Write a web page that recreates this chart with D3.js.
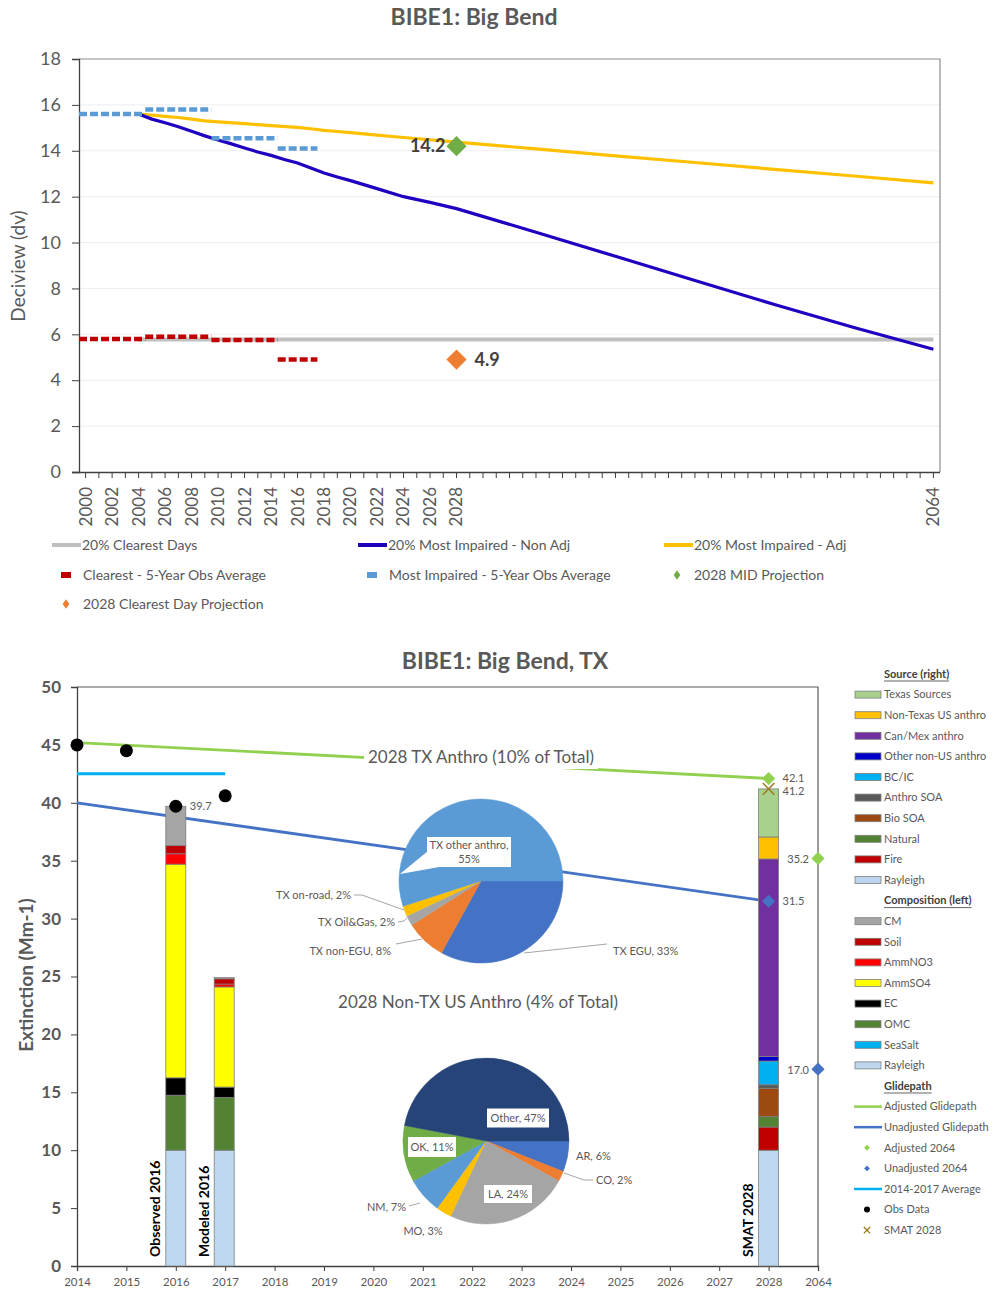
<!DOCTYPE html>
<html><head><meta charset="utf-8">
<script src="https://cdn.jsdelivr.net/npm/d3@7"></script>
<style>
body{margin:0;background:#fff;}
svg text{font-family:Lato,"Noto Sans",sans-serif;}
</style></head><body>
<svg id="chart" width="994" height="1289"></svg>
<script>
// ---------- Upper panel: deciview trends ----------
const dvCategories = ["2000","2001","2002","2003","2004","2005","2006","2007","2008","2009","2010","2011","2012","2013","2014","2015","2016","2017","2018","2019","2020","2021","2022","2023","2024","2025","2026","2027","2028","2029","2030","2031","2032","2033","2034","2035","2036","2037","2038","2039","2040","2041","2042","2043","2044","2045","2046","2047","2048","2049","2050","2051","2052","2053","2054","2055","2056","2057","2058","2059","2060","2061","2062","2063","2064"];
const dvTickLabels = ["2000","2002","2004","2006","2008","2010","2012","2014","2016","2018","2020","2022","2024","2026","2028","2064"];
const dvYTicks = [0,2,4,6,8,10,12,14,16,18];

const clearestYears = ["2004","2064"];
const clearestValues = [5.77, 5.77];

const adjYears = ["2004","2005","2006","2007","2008","2009","2010","2012","2014","2016","2017","2018","2019","2020","2022","2024","2026","2028","2034","2040","2046","2052","2058","2064"];
const adjValues = [15.6,15.55,15.5,15.45,15.38,15.3,15.26,15.18,15.1,15.02,14.96,14.89,14.84,14.79,14.68,14.58,14.48,14.38,14.08,13.78,13.49,13.19,12.9,12.6];

const nonAdjYears = ["2004","2005","2006","2007","2008","2009","2010","2011","2012","2013","2014","2015","2016","2017","2018","2019","2020","2022","2024","2026","2028","2034","2040","2046","2052","2058","2064"];
const nonAdjValues = [15.6,15.38,15.22,15.05,14.85,14.65,14.47,14.3,14.12,13.95,13.8,13.62,13.47,13.25,13.03,12.86,12.7,12.35,12.0,11.75,11.48,10.45,9.4,8.35,7.3,6.3,5.35];

const clearestAvgStart = ["2000","2005","2010","2015"];
const clearestAvgEnd = ["2004","2009","2014","2017"];
const clearestAvgValues = [5.8, 5.9, 5.75, 4.9];

const impairedAvgStart = ["2000","2005","2010","2015"];
const impairedAvgEnd = ["2004","2009","2014","2017"];
const impairedAvgValues = [15.6, 15.8, 14.55, 14.1];

const midProjection2028 = 14.2;
const clearestProjection2028 = 4.9;

// ---------- Lower panel: extinction budget ----------
const extCategories = ["2014","2015","2016","2017","2018","2019","2020","2021","2022","2023","2024","2025","2026","2027","2028","2064"];
const extYTicks = [0,5,10,15,20,25,30,35,40,45,50];

const compositionNames = ["Rayleigh","SeaSalt","OMC","EC","AmmSO4","AmmNO3","Soil","CM"];
const compositionColors = ["#BDD7EE","#00B0F0","#548235","#000000","#FFFF00","#FF0000","#C00000","#A5A5A5"];
const observed2016 = [10, 0, 4.75, 1.5, 18.45, 0.9, 0.7, 3.4];
const modeled2016 = [10, 0, 4.55, 0.9, 8.65, 0.25, 0.45, 0.1];

const sourceNames = ["Rayleigh","Fire","Natural","Bio SOA","Anthro SOA","BC/IC","Other non-US anthro","Can/Mex anthro","Non-Texas US anthro","Texas Sources"];
const sourceColors = ["#BDD7EE","#C00000","#548235","#9C4A10","#595959","#00B0F0","#0000CC","#7030A0","#FFC000","#A9D18E"];
const smat2028 = [10, 2.0, 0.9, 2.45, 0.3, 2.05, 0.4, 17.05, 1.9, 4.15];

const glideYears = ["2014","2028"];
const adjustedGlide = [45.2, 42.1];
const unadjustedGlide = [40.0, 31.5];
const adjusted2064 = 35.2;
const unadjusted2064 = 17.0;
const avgYears = ["2014","2017"];
const avg2014to2017 = [42.5, 42.5];
const obsYears = ["2014","2015","2016","2017"];
const obsValues = [45.0, 44.5, 39.7, 40.6];
const smatTotal = 41.2;

const txLabels = ["TX EGU","TX non-EGU","TX Oil&Gas","TX on-road","TX other anthro"];
const txShares = [33, 8, 2, 2, 55];
const txColors = ["#4472C4","#ED7D31","#A5A5A5","#FFC000","#5B9BD5"];

const usLabels = ["AR","CO","LA","MO","NM","OK","Other"];
const usShares = [6, 2, 24, 3, 7, 11, 47];
const usColors = ["#4472C4","#ED7D31","#A5A5A5","#FFC000","#5B9BD5","#70AD47","#264478"];

const legendEntries = [
  {t:"Source (right)", kind:"head"},
  {t:"Texas Sources", kind:"box", c:"#A9D18E"},
  {t:"Non-Texas US anthro", kind:"box", c:"#FFC000"},
  {t:"Can/Mex anthro", kind:"box", c:"#7030A0"},
  {t:"Other non-US anthro", kind:"box", c:"#0000CC"},
  {t:"BC/IC", kind:"box", c:"#00B0F0"},
  {t:"Anthro SOA", kind:"box", c:"#595959"},
  {t:"Bio SOA", kind:"box", c:"#9C4A10"},
  {t:"Natural", kind:"box", c:"#548235"},
  {t:"Fire", kind:"box", c:"#C00000"},
  {t:"Rayleigh", kind:"box", c:"#BDD7EE"},
  {t:"Composition (left)", kind:"head"},
  {t:"CM", kind:"box", c:"#A5A5A5"},
  {t:"Soil", kind:"box", c:"#C00000"},
  {t:"AmmNO3", kind:"box", c:"#FF0000"},
  {t:"AmmSO4", kind:"box", c:"#FFFF00"},
  {t:"EC", kind:"box", c:"#000000"},
  {t:"OMC", kind:"box", c:"#548235"},
  {t:"SeaSalt", kind:"box", c:"#00B0F0"},
  {t:"Rayleigh", kind:"box", c:"#BDD7EE"},
  {t:"Glidepath", kind:"head"},
  {t:"Adjusted Glidepath", kind:"line", c:"#92D050"},
  {t:"Unadjusted Glidepath", kind:"line", c:"#4472C4"},
  {t:"Adjusted 2064", kind:"diamond", c:"#92D050"},
  {t:"Unadjusted 2064", kind:"diamond", c:"#4472C4"},
  {t:"2014-2017 Average", kind:"line", c:"#00B0F0"},
  {t:"Obs Data", kind:"dot", c:"#000000"},
  {t:"SMAT 2028", kind:"x", c:"#9C7A1E"}
];

const svg = d3.select("#chart");
const gray = "#595959";
const diamond = (s) => d3.symbol().type(d3.symbolDiamond2).size(s)();

/* ===================== Upper panel ===================== */
const xT = d3.scaleBand().domain(dvCategories).range([79, 940]);
const bw = xT.bandwidth();
const cx = d => xT(d) + bw / 2;
const yT = d3.scaleLinear().domain([0, 18]).range([472, 59]);

svg.append("text").attr("x", 474).attr("y", 25).attr("text-anchor", "middle")
  .attr("font-size", 23).attr("font-weight", 700).attr("fill", gray).text("BIBE1: Big Bend");

// gridlines
svg.append("g").selectAll("line").data(dvYTicks.filter(v => v > 0 && v < 18)).join("line")
  .attr("x1", 79).attr("x2", 940).attr("y1", d => yT(d)).attr("y2", d => yT(d))
  .attr("stroke", "#eeeeee").attr("stroke-width", 1);
// frame top/right
svg.append("path").attr("d", `M79,${yT(18)}H940V${yT(0)}`).attr("fill", "none")
  .attr("stroke", "#8c8c8c").attr("stroke-width", 1.2);

// y axis
const yAxisT = svg.append("g").attr("transform", "translate(79,0)")
  .call(d3.axisLeft(yT).tickValues(dvYTicks).tickSize(7).tickPadding(11));
yAxisT.select(".domain").attr("stroke", "#404040").attr("stroke-width", 1.3);
yAxisT.selectAll(".tick line").attr("stroke", "#404040");
yAxisT.selectAll("text").attr("font-size", 18).attr("fill", gray);

// x axis
const xAxisT = svg.append("g").attr("transform", `translate(0,${yT(0)})`)
  .call(d3.axisBottom(xT).tickValues(dvCategories).tickSize(6)
    .tickFormat(d => dvTickLabels.includes(d) ? d : ""));
xAxisT.select(".domain").attr("d", "M72,0.5H940").attr("stroke", "#404040").attr("stroke-width", 1.3);
xAxisT.selectAll(".tick line").attr("stroke", "#404040");
xAxisT.selectAll("text").attr("font-size", 17).attr("fill", gray)
  .attr("transform", "rotate(-90)").attr("x", -15).attr("y", 0).attr("dy", "0.35em")
  .style("text-anchor", "end");

svg.append("text").attr("transform", "translate(25,266) rotate(-90)").attr("text-anchor", "middle")
  .attr("font-size", 19).attr("fill", gray).text("Deciview (dv)");

const lineT = d3.line().x(d => cx(d[0])).y(d => yT(d[1]));

svg.append("path").datum(d3.zip(clearestYears, clearestValues)).attr("d", lineT)
  .attr("fill", "none").attr("stroke", "#BFBFBF").attr("stroke-width", 4);
svg.append("path").datum(d3.zip(adjYears, adjValues)).attr("d", lineT)
  .attr("fill", "none").attr("stroke", "#FFC000").attr("stroke-width", 3.2);
svg.append("path").datum(d3.zip(nonAdjYears, nonAdjValues)).attr("d", lineT)
  .attr("fill", "none").attr("stroke", "#2000C0").attr("stroke-width", 3.2);

function avgDashes(starts, ends, vals, color) {
  svg.append("g").selectAll("line").data(d3.range(vals.length)).join("line")
    .attr("x1", i => xT(starts[i])).attr("x2", i => xT(ends[i]) + bw)
    .attr("y1", i => yT(vals[i])).attr("y2", i => yT(vals[i]))
    .attr("stroke", color).attr("stroke-width", 4.5).attr("stroke-dasharray", "8,3");
}
avgDashes(clearestAvgStart, clearestAvgEnd, clearestAvgValues, "#C00000");
avgDashes(impairedAvgStart, impairedAvgEnd, impairedAvgValues, "#5B9BD5");

svg.append("path").attr("d", diamond(260))
  .attr("transform", `translate(${cx("2028")},${yT(midProjection2028)})`).attr("fill", "#70AD47");
svg.append("path").attr("d", diamond(260))
  .attr("transform", `translate(${cx("2028")},${yT(clearestProjection2028)})`).attr("fill", "#ED7D31");
svg.append("text").attr("x", cx("2028") - 11).attr("y", yT(midProjection2028)).attr("dy", "0.35em")
  .attr("text-anchor", "end").attr("font-size", 18).attr("font-weight", 700).attr("fill", "#404040")
  .text(midProjection2028.toFixed(1));
svg.append("text").attr("x", cx("2028") + 18).attr("y", yT(clearestProjection2028)).attr("dy", "0.35em")
  .attr("font-size", 18).attr("font-weight", 700).attr("fill", "#404040")
  .text(clearestProjection2028.toFixed(1));

// legend (upper)
const legT = svg.append("g").attr("font-size", 14).attr("fill", gray);
function legLine(x, y, c, t) {
  legT.append("line").attr("x1", x).attr("x2", x + 29).attr("y1", y).attr("y2", y)
    .attr("stroke", c).attr("stroke-width", 4);
  legT.append("text").attr("x", x + 30).attr("y", y).attr("dy", "0.35em").text(t);
}
function legMark(x, y, shape, c, t) {
  if (shape === "sq") legT.append("rect").attr("x", x - 5).attr("y", y - 3).attr("width", 10).attr("height", 6).attr("fill", c);
  else legT.append("path").attr("d", diamond(50)).attr("transform", `translate(${x},${y}) scale(0.75,1.1)`).attr("fill", c);
  legT.append("text").attr("x", x + 17).attr("y", y).attr("dy", "0.35em").text(t);
}
legLine(52, 545, "#BFBFBF", "20% Clearest Days");
legLine(358, 545, "#2000C0", "20% Most Impaired - Non Adj");
legLine(664, 545, "#FFC000", "20% Most Impaired - Adj");
legMark(66, 575, "sq", "#C00000", "Clearest - 5-Year Obs Average");
legMark(372, 575, "sq", "#5B9BD5", "Most Impaired - 5-Year Obs Average");
legMark(677, 575, "dm", "#70AD47", "2028 MID Projection");
legMark(66, 604, "dm", "#ED7D31", "2028 Clearest Day Projection");

/* ===================== Lower panel ===================== */
const xB = d3.scalePoint().domain(extCategories).range([77, 818]);
const yB = d3.scaleLinear().domain([0, 50]).range([1266, 687]);

svg.append("text").attr("x", 505).attr("y", 669).attr("text-anchor", "middle")
  .attr("font-size", 23).attr("font-weight", 700).attr("fill", gray).text("BIBE1: Big Bend, TX");

svg.append("path").attr("d", `M77,${yB(50)}H818V${yB(0)}`).attr("fill", "none")
  .attr("stroke", "#595959").attr("stroke-width", 1.2);

const yAxisB = svg.append("g").attr("transform", "translate(77,0)")
  .call(d3.axisLeft(yB).tickValues(extYTicks).tickSize(6).tickPadding(10));
yAxisB.select(".domain").attr("stroke", "#404040").attr("stroke-width", 1.3);
yAxisB.selectAll(".tick line").attr("stroke", "#404040");
yAxisB.selectAll("text").attr("font-size", 17).attr("font-weight", 700).attr("fill", gray);

const xAxisB = svg.append("g").attr("transform", `translate(0,${yB(0)})`)
  .call(d3.axisBottom(xB).tickSize(5).tickPadding(7));
xAxisB.select(".domain").attr("stroke", "#404040").attr("stroke-width", 1.3);
xAxisB.selectAll(".tick line").attr("stroke", "#404040");
xAxisB.selectAll("text").attr("font-size", 11.5).attr("fill", gray);

svg.append("text").attr("transform", "translate(33,975) rotate(-90)").attr("text-anchor", "middle")
  .attr("font-size", 19).attr("font-weight", 700).attr("fill", gray).text("Extinction (Mm-1)");

// glidepath lines (drawn under the pies)
const lineB = d3.line().x(d => xB(d[0])).y(d => yB(d[1]));
svg.append("path").datum(d3.zip(glideYears, unadjustedGlide)).attr("d", lineB)
  .attr("fill", "none").attr("stroke", "#4472C4").attr("stroke-width", 2.8);
svg.append("path").datum(d3.zip(glideYears, adjustedGlide)).attr("d", lineB)
  .attr("fill", "none").attr("stroke", "#92D050").attr("stroke-width", 2.8);
svg.append("path").datum(d3.zip(avgYears, avg2014to2017)).attr("d", lineB)
  .attr("fill", "none").attr("stroke", "#00B0F0").attr("stroke-width", 3);

// stacked bars
function stackBar(cat, vals, colors, offset) {
  const x0 = xB(cat) - 10 + offset;
  let acc = 0;
  const g = svg.append("g");
  vals.forEach((v, i) => {
    if (v > 0) {
      g.append("rect").attr("x", x0).attr("width", 20)
        .attr("y", yB(acc + v)).attr("height", yB(acc) - yB(acc + v))
        .attr("fill", colors[i]).attr("stroke", "#7f7f7f").attr("stroke-width", 0.8);
    }
    acc += v;
  });
}
stackBar("2016", observed2016, compositionColors, 0);
stackBar("2017", modeled2016, compositionColors, -1);
stackBar("2028", smat2028, sourceColors, 0);

function rotLabel(x, t) {
  svg.append("text").attr("transform", `translate(${x},1257) rotate(-90)`)
    .attr("font-size", 14).attr("font-weight", 700).attr("fill", "#000").text(t);
}
rotLabel(160, "Observed 2016");
rotLabel(209, "Modeled 2016");
rotLabel(753, "SMAT 2028");

// observations and markers
svg.append("g").selectAll("circle").data(d3.zip(obsYears, obsValues)).join("circle")
  .attr("cx", d => xB(d[0])).attr("cy", d => yB(d[1])).attr("r", 6.5).attr("fill", "#000");

function diamondAt(cat, v, c) {
  svg.append("path").attr("d", diamond(110))
    .attr("transform", `translate(${xB(cat)},${yB(v)})`).attr("fill", c);
}
diamondAt("2028", adjustedGlide[1], "#92D050");
diamondAt("2028", unadjustedGlide[1], "#4472C4");
diamondAt("2064", adjusted2064, "#92D050");
diamondAt("2064", unadjusted2064, "#4472C4");
svg.append("path").attr("d", d3.symbol().type(d3.symbolX).size(90)())
  .attr("transform", `translate(${xB("2028")},${yB(smatTotal)})`)
  .attr("fill", "none").attr("stroke", "#9C7A1E").attr("stroke-width", 1.5);

const vlab = svg.append("g").attr("font-size", 11).attr("fill", gray);
vlab.append("text").attr("x", xB("2016") + 14).attr("y", yB(obsValues[2])).attr("dy", "0.35em").text(obsValues[2].toFixed(1));
vlab.append("text").attr("x", xB("2028") + 14).attr("y", yB(adjustedGlide[1]) - 0.5).attr("dy", "0.35em").text(adjustedGlide[1].toFixed(1));
vlab.append("text").attr("x", xB("2028") + 14).attr("y", yB(smatTotal) + 2).attr("dy", "0.35em").text(smatTotal.toFixed(1));
vlab.append("text").attr("x", xB("2028") + 14).attr("y", yB(unadjustedGlide[1])).attr("dy", "0.35em").text(unadjustedGlide[1].toFixed(1));
vlab.append("text").attr("x", xB("2064") - 9).attr("y", yB(adjusted2064) + 1).attr("dy", "0.35em").attr("text-anchor", "end").text(adjusted2064.toFixed(1));
vlab.append("text").attr("x", xB("2064") - 9).attr("y", yB(unadjusted2064) + 1).attr("dy", "0.35em").attr("text-anchor", "end").text(unadjusted2064.toFixed(1));

// pie titles
svg.append("rect").attr("x", 364).attr("y", 745).attr("width", 234).attr("height", 24).attr("fill", "#fff");
svg.append("text").attr("x", 481).attr("y", 757).attr("dy", "0.35em").attr("text-anchor", "middle")
  .attr("font-size", 17).attr("fill", gray).text("2028 TX Anthro (10% of Total)");
svg.append("text").attr("x", 478).attr("y", 1002).attr("dy", "0.35em").attr("text-anchor", "middle")
  .attr("font-size", 17).attr("fill", gray).text("2028 Non-TX US Anthro (4% of Total)");

// pies
const pieGen = d3.pie().sort(null).startAngle(Math.PI / 2).endAngle(Math.PI / 2 + 2 * Math.PI);
function drawPie(shares, colors, px, py, r) {
  const arcs = pieGen(shares);
  svg.append("g").attr("transform", `translate(${px},${py})`).selectAll("path").data(arcs).join("path")
    .attr("d", d3.arc().innerRadius(0).outerRadius(r)).attr("fill", (d, i) => colors[i])
    .attr("stroke", (d, i) => colors[i]).attr("stroke-width", 0.5);
}
drawPie(txShares, txColors, 481, 881, 82);
drawPie(usShares, usColors, 486, 1141, 83);

const pl = svg.append("g").attr("font-size", 11).attr("fill", gray);
function leader(pts) {
  svg.append("polyline").attr("points", pts.map(p => p.join(",")).join(" "))
    .attr("fill", "none").attr("stroke", "#A6A6A6").attr("stroke-width", 1);
}
function boxLabel(x, y, w, h, lines) {
  pl.append("rect").attr("x", x - w / 2).attr("y", y - h / 2).attr("width", w).attr("height", h).attr("fill", "#fff");
  lines.forEach((t, k) => pl.append("text").attr("x", x).attr("y", y + (k - (lines.length - 1) / 2) * 14)
    .attr("dy", "0.35em").attr("text-anchor", "middle").text(t));
}
// TX pie callouts
svg.append("path").attr("d", "M428,851 L400,874 L445,866 Z").attr("fill", "#fff");
boxLabel(469, 852, 84, 30, [txLabels[4] + ",", txShares[4] + "%"]);
leader([[354, 895], [362, 895], [404, 910]]);
pl.append("text").attr("x", 351).attr("y", 895).attr("dy", "0.35em").attr("text-anchor", "end").text(txLabels[3] + ", " + txShares[3] + "%");
leader([[398, 922], [404, 921], [407, 918]]);
pl.append("text").attr("x", 395).attr("y", 922).attr("dy", "0.35em").attr("text-anchor", "end").text(txLabels[2] + ", " + txShares[2] + "%");
leader([[396, 944], [422, 939]]);
pl.append("text").attr("x", 391).attr("y", 951).attr("dy", "0.35em").attr("text-anchor", "end").text(txLabels[1] + ", " + txShares[1] + "%");
leader([[524, 953], [607, 944]]);
pl.append("text").attr("x", 613).attr("y", 951).attr("dy", "0.35em").text(txLabels[0] + ", " + txShares[0] + "%");

// US pie callouts
boxLabel(518, 1118, 62, 19, [usLabels[6] + ", " + usShares[6] + "%"]);
boxLabel(432, 1147, 48, 20, [usLabels[5] + ", " + usShares[5] + "%"]);
boxLabel(508, 1194, 48, 18, [usLabels[2] + ", " + usShares[2] + "%"]);
pl.append("text").attr("x", 576).attr("y", 1156).attr("dy", "0.35em").text(usLabels[0] + ", " + usShares[0] + "%");
leader([[564, 1173], [584, 1180], [593, 1180]]);
pl.append("text").attr("x", 596).attr("y", 1180).attr("dy", "0.35em").text(usLabels[1] + ", " + usShares[1] + "%");
leader([[409, 1206], [420, 1203]]);
pl.append("text").attr("x", 406).attr("y", 1207).attr("dy", "0.35em").attr("text-anchor", "end").text(usLabels[4] + ", " + usShares[4] + "%");
pl.append("text").attr("x", 423).attr("y", 1231).attr("dy", "0.35em").attr("text-anchor", "middle").text(usLabels[3] + ", " + usShares[3] + "%");

// right-hand legend
const legB = svg.append("g").attr("font-size", 11).attr("fill", gray);
legendEntries.forEach((e, i) => {
  const y = 674 + i * 20.6;
  if (e.kind === "head") {
    const t = legB.append("text").attr("x", 884).attr("y", y).attr("dy", "0.35em")
      .attr("font-weight", 700).attr("fill", "#404040").text(e.t);
    const w = t.node().getComputedTextLength();
    legB.append("line").attr("x1", 884).attr("x2", 884 + w).attr("y1", y + 7).attr("y2", y + 7)
      .attr("stroke", "#404040").attr("stroke-width", 0.8);
    return;
  }
  if (e.kind === "box") legB.append("rect").attr("x", 855).attr("y", y - 3.5).attr("width", 26).attr("height", 7)
    .attr("fill", e.c).attr("stroke", "#7f7f7f").attr("stroke-width", 0.8);
  else if (e.kind === "line") legB.append("line").attr("x1", 854).attr("x2", 882).attr("y1", y).attr("y2", y)
    .attr("stroke", e.c).attr("stroke-width", 2.5);
  else if (e.kind === "diamond") legB.append("path").attr("d", diamond(22)).attr("transform", `translate(867,${y})`).attr("fill", e.c);
  else if (e.kind === "dot") legB.append("circle").attr("cx", 867).attr("cy", y).attr("r", 3).attr("fill", e.c);
  else legB.append("path").attr("d", d3.symbol().type(d3.symbolX).size(28)()).attr("transform", `translate(867,${y})`)
    .attr("fill", "none").attr("stroke", e.c).attr("stroke-width", 1.3);
  legB.append("text").attr("x", 884).attr("y", y).attr("dy", "0.35em").text(e.t);
});
</script>
</body></html>
